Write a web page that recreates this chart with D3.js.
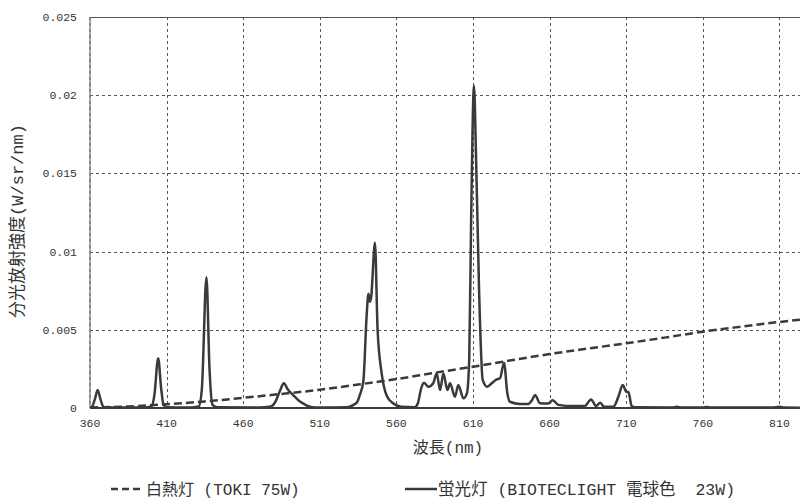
<!DOCTYPE html>
<html>
<head>
<meta charset="utf-8">
<script src="https://cdn.jsdelivr.net/npm/d3@7"></script>
<style>
  html, body { margin: 0; padding: 0; background: #fff; }
  svg { display: block; }
</style>
</head>
<body>
<div id="chart"></div>
<script>
// Axis ticks
const xTicks = [360, 410, 460, 510, 560, 610, 660, 710, 760, 810];
const yTicks = [0, 0.005, 0.01, 0.015, 0.02, 0.025];
const yTickLabels = ['0', '0.005', '0.01', '0.015', '0.02', '0.025'];

// 白熱灯 (TOKI 75W)
const incWavelength = [360, 385, 410, 435, 460, 485, 510, 535, 560, 585, 610, 635, 660, 685, 710, 735, 760, 785, 810, 823.4];
const incValue = [0.00003, 0.0001, 0.00024, 0.00042, 0.00065, 0.0009, 0.00117, 0.0015, 0.00185, 0.00225,
  0.00264, 0.00305, 0.00345, 0.0038, 0.00414, 0.0045, 0.00488, 0.0052, 0.0055, 0.00565];

// 蛍光灯 (BIOTECLIGHT 電球色 23W)
const fluWavelength = [360, 361, 363, 365, 367, 369, 380, 395, 400, 402, 404.5, 406.5, 408, 410,
  425, 431, 433, 436, 438, 440, 443, 470, 478, 481, 484, 486.5, 489, 492.5, 496, 499, 503, 507,
  528, 532, 534.5, 536, 538.4, 540.5, 541.7, 542.7, 543.5, 546, 547.7, 550.4, 553.6, 557.8, 563,
  572, 574, 576, 578, 580.9, 584, 586.3, 588.5, 590.6, 593.3, 595, 598.2, 600.4, 603.7, 606,
  607.5, 608.7, 610.6, 612, 614, 616.3, 619.3, 622.2, 625.4, 627.6, 630.2, 632.4, 634, 640.6,
  646, 648.5, 650.5, 653.7, 659, 662, 665.7, 675, 683, 687, 690.3, 693, 695.5, 701.6, 704.8,
  707.7, 710, 711.4, 713.6, 716, 740, 743, 746, 760, 762.5, 765, 805, 810, 813, 823.4];
const fluValue = [0.00003, 0.00005, 0.0005, 0.00115, 0.0005, 0.00005, 0.00003, 0.00003, 0.0001, 0.0008, 0.00318, 0.0012, 0.0002, 0.00005,
  0.00003, 0.0001, 0.0012, 0.00836, 0.0025, 0.0002, 0.00005, 0.00003, 0.0001, 0.0004, 0.0011, 0.00158, 0.0012, 0.00083, 0.0005, 0.0003, 0.0001, 0.00003,
  0.00005, 0.0002, 0.0004, 0.0008, 0.0017, 0.0058, 0.0073, 0.0068, 0.0071, 0.01057, 0.005, 0.0022, 0.0008, 0.0003, 0.00008,
  0.00005, 0.0003, 0.0012, 0.00162, 0.00136, 0.00158, 0.0022, 0.00115, 0.0022, 0.00115, 0.00158, 0.00072, 0.00147, 0.00062, 0.00094,
  0.0031, 0.0116, 0.0206, 0.0159, 0.0073, 0.0018, 0.00136, 0.00158, 0.00183, 0.0019, 0.0029, 0.00094, 0.0004, 0.00026,
  0.00026, 0.0005, 0.00083, 0.0003, 0.00028, 0.0005, 0.0002, 0.00012, 0.00013, 0.00055, 0.00013, 0.00034, 0.00008, 0.00008, 0.0007,
  0.00147, 0.00104, 0.00102, 0.0001, 0.00004, 0.00003, 0.00008, 0.00003, 0.00003, 0.00007, 0.00003, 0.00003, 0.00008, 0.00003, 0.00002];

const seriesNames = ['白熱灯 (TOKI 75W)', '蛍光灯 (BIOTECLIGHT 電球色  23W)'];

const width = 801, height = 500;
const plot = { left: 90, right: 800, top: 17, bottom: 408 };
const ink = '#3a3a3a';
const textFont = "'Liberation Mono', 'Noto Sans CJK JP', monospace";

const svg = d3.select('#chart').append('svg')
  .attr('width', width)
  .attr('height', height);

const x = d3.scaleLinear().domain([360, 823.4]).range([plot.left, plot.right]);
const y = d3.scaleLinear().domain([0, 0.025]).range([plot.bottom, plot.top]);

// Grid
const grid = svg.append('g');
grid.selectAll('line.h')
  .data(yTicks.filter(d => d > 0 && d < 0.025))
  .join('line')
  .attr('x1', plot.left).attr('x2', plot.right)
  .attr('y1', d => Math.round(y(d)) + 0.5).attr('y2', d => Math.round(y(d)) + 0.5)
  .attr('stroke', '#555').attr('stroke-width', 1).attr('stroke-dasharray', '3,3');
grid.selectAll('line.v')
  .data(xTicks.filter(d => d > 360))
  .join('line')
  .attr('x1', d => Math.round(x(d)) + 0.5).attr('x2', d => Math.round(x(d)) + 0.5)
  .attr('y1', plot.top).attr('y2', plot.bottom)
  .attr('stroke', '#555').attr('stroke-width', 1).attr('stroke-dasharray', '3,3');

// Left axis (light solid + dashed) and top / bottom borders
svg.append('line')
  .attr('x1', plot.left).attr('x2', plot.left).attr('y1', plot.top).attr('y2', plot.bottom)
  .attr('stroke', '#aaa').attr('stroke-width', 2);
svg.append('line')
  .attr('x1', plot.left).attr('x2', plot.left).attr('y1', plot.top).attr('y2', plot.bottom)
  .attr('stroke', '#666').attr('stroke-width', 1).attr('stroke-dasharray', '3,3');
svg.append('line')
  .attr('x1', plot.left).attr('x2', plot.right).attr('y1', y(0.025) + 0.5).attr('y2', y(0.025) + 0.5)
  .attr('stroke', '#555').attr('stroke-width', 1);

// Tick labels
svg.append('g').selectAll('text')
  .data(yTicks)
  .join('text')
  .attr('x', 77)
  .attr('y', d => y(d) + 4)
  .attr('text-anchor', 'end')
  .attr('font-family', textFont).attr('font-size', 11.5).attr('fill', '#333')
  .text((d, i) => yTickLabels[i]);
svg.append('g').selectAll('text')
  .data(xTicks)
  .join('text')
  .attr('x', d => x(d))
  .attr('y', 427)
  .attr('text-anchor', 'middle')
  .attr('font-family', textFont).attr('font-size', 11.5).attr('fill', '#333')
  .text(d => d);

// Series
const incData = incWavelength.map((w, i) => [w, incValue[i]]);
const fluData = fluWavelength.map((w, i) => [w, fluValue[i]]);
const line = d3.line().x(d => x(d[0])).y(d => y(d[1])).curve(d3.curveMonotoneX);

svg.append('path')
  .datum(fluData)
  .attr('d', line)
  .attr('fill', 'none').attr('stroke', ink).attr('stroke-width', 2.5)
  .attr('stroke-linejoin', 'round');

svg.append('path')
  .datum(incData)
  .attr('d', line)
  .attr('fill', 'none').attr('stroke', ink).attr('stroke-width', 2.5)
  .attr('stroke-dasharray', '8,4');

// Bottom axis line
svg.append('line')
  .attr('x1', plot.left).attr('x2', plot.right).attr('y1', plot.bottom).attr('y2', plot.bottom)
  .attr('stroke', ink).attr('stroke-width', 2);

// Axis titles
svg.append('text')
  .attr('x', 448).attr('y', 453)
  .attr('text-anchor', 'middle')
  .attr('font-family', textFont).attr('font-size', 16).attr('fill', '#333')
  .text('波長(nm)');
svg.append('text')
  .attr('transform', 'translate(23,221) rotate(-90)')
  .attr('text-anchor', 'middle')
  .attr('font-family', textFont).attr('font-size', 17).attr('fill', '#333')
  .text('分光放射強度(W/sr/nm)');

// Legend
const legend = svg.append('g');
legend.append('line')
  .attr('x1', 111).attr('x2', 140).attr('y1', 489).attr('y2', 489)
  .attr('stroke', ink).attr('stroke-width', 2.5).attr('stroke-dasharray', '7,4');
legend.append('text')
  .attr('x', 146).attr('y', 495)
  .attr('font-family', textFont).attr('font-size', 16).attr('fill', '#333')
  .attr('xml:space', 'preserve').style('white-space', 'pre')
  .text(seriesNames[0]);
legend.append('line')
  .attr('x1', 405).attr('x2', 437).attr('y1', 489).attr('y2', 489)
  .attr('stroke', ink).attr('stroke-width', 2.5);
legend.append('text')
  .attr('x', 438).attr('y', 495)
  .attr('font-family', textFont).attr('font-size', 16.5).attr('fill', '#333')
  .attr('xml:space', 'preserve').style('white-space', 'pre')
  .text(seriesNames[1]);
</script>
</body>
</html>
